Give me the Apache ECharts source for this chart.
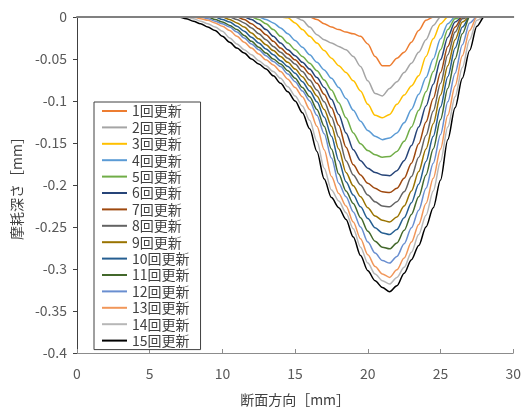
<!DOCTYPE html>
<html><head><meta charset="utf-8">
<script src="https://cdn.jsdelivr.net/npm/echarts@6/dist/echarts.min.js"></script>
<style>html,body{margin:0;padding:0;background:#fff;}#c{width:524px;height:412px;}</style>
</head><body><div id="c"></div>
<script>
// cross-section position [mm]
const xs = [0, 6, 6.5, 7, 7.5, 8, 8.5, 9, 9.5, 10, 10.5, 11, 11.5, 12, 12.5, 13, 13.5, 14, 14.5, 15, 15.5, 16, 16.5, 17, 17.5, 18, 18.5, 19, 19.5, 20, 20.5, 21, 21.5, 22, 22.5, 23, 23.5, 24, 24.5, 25, 25.5, 26, 26.5, 27, 27.5, 28, 28.5, 29, 30];

// wear depth [mm] per update
const s1 = [0,0,0,0,0,0,0,0,0,0, 0,0,0,0,0,0,0,0,0,0, 0,0, -0.003,-0.008,-0.012,-0.015,-0.018,-0.020,-0.023,-0.032,-0.047,-0.058,-0.058,-0.049,-0.042,-0.030,-0.016,-0.004, 0,0,0,0,0,0,0,0,0,0,0];
const s2 = [0,0,0,0,0,0,0,0,0,0, 0,0,0,0,0,0,0,0,0,0, -0.004,-0.012,-0.021,-0.027,-0.031,-0.035,-0.039,-0.047,-0.059,-0.076,-0.091,-0.094,-0.085,-0.077,-0.066,-0.055,-0.042,-0.027,-0.010, 0,0,0,0,0,0,0,0,0,0];
const s3 = [0,0,0,0,0,0,0,0,0,0, 0,0,0,0,0,0,0,0, -0.001,-0.007,-0.015,-0.023,-0.031,-0.040,-0.049,-0.058,-0.066,-0.076,-0.088,-0.104,-0.117,-0.120,-0.116,-0.104,-0.093,-0.082,-0.070,-0.047,-0.026,-0.008, 0,0,0,0,0,0,0,0,0];
const s4 = [0,0,0,0,0,0,0,0,0,0, 0,0,0,0,0, -0.003,-0.007,-0.013,-0.020,-0.028,-0.036,-0.045,-0.054,-0.063,-0.073,-0.084,-0.097,-0.111,-0.124,-0.135,-0.142,-0.146,-0.144,-0.138,-0.126,-0.110,-0.092,-0.072,-0.050,-0.026,-0.008, 0,0,0,0,0,0,0,0];
const s5 = [0,0,0,0,0,0,0,0,0,0, 0,0,0,0, -0.003,-0.008,-0.015,-0.023,-0.031,-0.039,-0.047,-0.055,-0.064,-0.075,-0.087,-0.102,-0.120,-0.138,-0.151,-0.159,-0.164,-0.167,-0.166,-0.160,-0.148,-0.131,-0.111,-0.089,-0.065,-0.039,-0.015,-0.002, 0,0,0,0,0,0,0];
const s6 = [0,0,0,0,0,0,0,0,0,0, 0,0,0, -0.003,-0.008,-0.015,-0.023,-0.031,-0.039,-0.046,-0.054,-0.062,-0.072,-0.084,-0.098,-0.116,-0.138,-0.158,-0.171,-0.180,-0.185,-0.188,-0.189,-0.183,-0.171,-0.153,-0.131,-0.106,-0.080,-0.051,-0.024,-0.006, 0,0,0,0,0,0,0];
const s7 = [0,0,0,0,0,0,0,0,0,0, 0,0, -0.003,-0.008,-0.014,-0.021,-0.029,-0.037,-0.044,-0.051,-0.059,-0.068,-0.079,-0.092,-0.108,-0.129,-0.155,-0.176,-0.188,-0.198,-0.204,-0.208,-0.209,-0.204,-0.192,-0.174,-0.151,-0.125,-0.097,-0.066,-0.035,-0.012, 0,0,0,0,0,0,0];
const s8 = [0,0,0,0,0,0,0,0,0,0, 0, -0.003,-0.007,-0.013,-0.020,-0.027,-0.035,-0.042,-0.049,-0.056,-0.065,-0.075,-0.087,-0.101,-0.119,-0.143,-0.171,-0.188,-0.200,-0.212,-0.220,-0.225,-0.226,-0.220,-0.208,-0.190,-0.167,-0.141,-0.112,-0.079,-0.045,-0.018,-0.002, 0,0,0,0,0,0];
const s9 = [0,0,0,0,0,0,0,0,0,0, -0.003,-0.007,-0.012,-0.019,-0.026,-0.033,-0.040,-0.047,-0.054,-0.062,-0.071,-0.082,-0.094,-0.110,-0.130,-0.157,-0.185,-0.201,-0.214,-0.227,-0.237,-0.242,-0.244,-0.238,-0.225,-0.207,-0.184,-0.157,-0.127,-0.093,-0.058,-0.027,-0.006, 0,0,0,0,0,0];
const s10 = [0,0,0,0,0,0,0,0,0, -0.003,-0.006,-0.011,-0.017,-0.024,-0.031,-0.038,-0.045,-0.052,-0.059,-0.067,-0.077,-0.088,-0.101,-0.119,-0.142,-0.171,-0.196,-0.212,-0.226,-0.240,-0.251,-0.257,-0.259,-0.253,-0.239,-0.221,-0.199,-0.172,-0.142,-0.107,-0.071,-0.037,-0.012, 0,0,0,0,0,0];
const s11 = [0,0,0,0,0,0,0,0, -0.003,-0.006,-0.010,-0.015,-0.022,-0.029,-0.036,-0.043,-0.050,-0.056,-0.064,-0.073,-0.084,-0.095,-0.110,-0.130,-0.157,-0.187,-0.207,-0.222,-0.239,-0.255,-0.267,-0.274,-0.276,-0.269,-0.254,-0.235,-0.214,-0.188,-0.157,-0.122,-0.085,-0.050,-0.020, 0,0,0,0,0,0];
const s12 = [0,0,0,0,0,0,0, -0.002,-0.005,-0.008,-0.012,-0.018,-0.025,-0.032,-0.039,-0.046,-0.053,-0.059,-0.068,-0.077,-0.088,-0.100,-0.117,-0.139,-0.168,-0.198,-0.214,-0.232,-0.250,-0.268,-0.281,-0.290,-0.293,-0.285,-0.270,-0.251,-0.230,-0.204,-0.174,-0.140,-0.101,-0.067,-0.033,-0.007, 0,0,0,0,0];
const s13 = [0,0,0,0,0,0, -0.002,-0.004,-0.007,-0.011,-0.016,-0.023,-0.030,-0.037,-0.044,-0.051,-0.057,-0.065,-0.074,-0.084,-0.095,-0.110,-0.130,-0.158,-0.190,-0.210,-0.225,-0.244,-0.264,-0.283,-0.297,-0.306,-0.310,-0.301,-0.287,-0.268,-0.247,-0.222,-0.192,-0.157,-0.117,-0.082,-0.046,-0.016, 0,0,0,0,0];
const s14 = [0,0,0,0,0, -0.002,-0.005,-0.008,-0.012,-0.017,-0.025,-0.032,-0.039,-0.045,-0.052,-0.058,-0.065,-0.073,-0.083,-0.094,-0.106,-0.123,-0.148,-0.180,-0.206,-0.219,-0.233,-0.252,-0.274,-0.293,-0.306,-0.314,-0.318,-0.310,-0.298,-0.280,-0.259,-0.236,-0.207,-0.172,-0.131,-0.095,-0.060,-0.027,-0.004, 0,0,0,0];
const s15 = [0,0,0,0, -0.002,-0.005,-0.008,-0.012,-0.016,-0.023,-0.030,-0.037,-0.043,-0.050,-0.056,-0.062,-0.070,-0.079,-0.089,-0.100,-0.114,-0.133,-0.160,-0.193,-0.215,-0.227,-0.241,-0.262,-0.284,-0.302,-0.314,-0.322,-0.327,-0.320,-0.305,-0.289,-0.272,-0.250,-0.227,-0.194,-0.146,-0.108,-0.073,-0.040,-0.011, 0,0,0,0];

const seriesNames = ['1回更新','2回更新','3回更新','4回更新','5回更新','6回更新','7回更新','8回更新','9回更新','10回更新','11回更新','12回更新','13回更新','14回更新','15回更新'];
const seriesValues = [s1,s2,s3,s4,s5,s6,s7,s8,s9,s10,s11,s12,s13,s14,s15];
const seriesColors = ['#ED7D31','#A5A5A5','#FFC000','#5B9BD5','#70AD47','#264478','#9E480E','#636363','#997300','#255E91','#43682B','#698ED0','#F1975A','#B7B7B7','#000000'];

const xMin = 0, xMax = 30, xStep = 5;
const yMin = -0.4, yMax = 0, yStep = 0.05;
const xTitle = '断面方向［mm］';
const yTitle = '摩耗深さ［mm］';

const FONT = "'Noto Sans CJK JP', 'Noto Sans', sans-serif";
const chart = echarts.init(document.getElementById('c'), null, {renderer: 'canvas'});

const series = seriesValues.map((vals, k) => ({
  name: seriesNames[k],
  type: 'line',
  xAxisIndex: 0,
  data: xs.map((x, i) => [x, vals[i]]),
  showSymbol: false,
  symbol: 'none',
  smooth: 0.3,
  smoothMonotone: 'x',
  lineStyle: {color: seriesColors[k], width: 1.5},
  itemStyle: {color: seriesColors[k]},
  emphasis: {disabled: true}
}));

chart.setOption({
  animation: false,
  backgroundColor: '#fff',
  textStyle: {fontFamily: FONT},
  grid: {left: 77, right: 9, top: 17, bottom: 54, containLabel: false},
  xAxis: [{
    type: 'value', min: xMin, max: xMax, interval: xStep, position: 'bottom',
    name: xTitle, nameLocation: 'middle', nameGap: 40,
    nameTextStyle: {fontFamily: FONT, fontSize: 14, color: '#404040'},
    axisLine: {show: true, onZero: false, lineStyle: {color: '#8c8c8c', width: 1}},
    axisTick: {show: true, inside: true, length: 4, lineStyle: {color: '#8c8c8c'}},
    axisLabel: {fontFamily: FONT, fontSize: 14, color: '#595959', margin: 14},
    splitLine: {show: false}
  }, {
    type: 'value', min: xMin, max: xMax, position: 'top', z: 10,
    axisLine: {show: true, onZero: false, lineStyle: {color: '#808080', width: 2}},
    axisTick: {show: false}, axisLabel: {show: false}, splitLine: {show: false}
  }],
  yAxis: {
    type: 'value', min: yMin, max: yMax, interval: yStep,
    name: yTitle, nameLocation: 'middle', nameGap: 45,
    nameTextStyle: {fontFamily: FONT, fontSize: 14, color: '#404040'},
    axisLine: {show: true, onZero: false, lineStyle: {color: '#404040', width: 1}},
    axisTick: {show: true, inside: false, length: 4, lineStyle: {color: '#404040'}},
    axisLabel: {fontFamily: FONT, fontSize: 14, color: '#595959', margin: 10},
    splitLine: {show: false}
  },
  legend: {
    show: true, orient: 'vertical', left: 94, top: 102,
    data: seriesNames.map((n, k) => ({name: n, icon: 'rect', itemStyle: {color: seriesColors[k]}})),
    itemWidth: 25, itemHeight: 2, itemGap: 2.4,
    padding: [2, 11, 2, 8],
    backgroundColor: '#fff', borderColor: '#404040', borderWidth: 1,
    textStyle: {fontFamily: FONT, fontSize: 14, color: '#404040', lineHeight: 14},
    selectedMode: false
  },
  series: series
});
</script>
</body></html>
